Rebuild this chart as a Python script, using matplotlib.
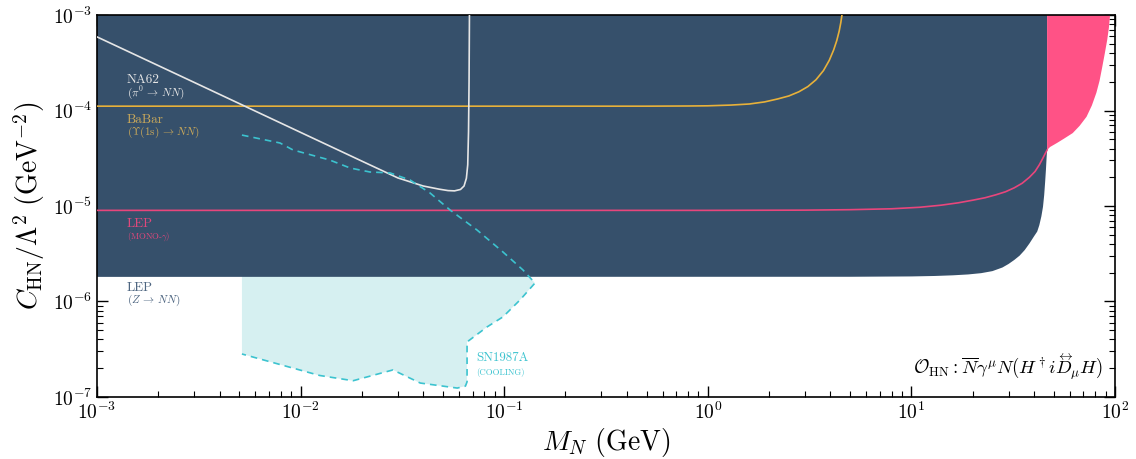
import numpy as np
import matplotlib
matplotlib.use("Agg")
import matplotlib.pyplot as plt
from matplotlib.transforms import IdentityTransform

plt.rcParams['font.family'] = 'serif'
plt.rcParams['font.serif'] = ['cmr10', 'DejaVu Serif']
plt.rcParams['mathtext.fontset'] = 'cm'
plt.rcParams['axes.formatter.use_mathtext'] = True

NAVY = '#36506b'
PINK = '#ff5286'
PINK_LINE = '#e8467c'
GOLD = '#e8b13a'
CYAN = '#3cc3cf'
CYAN_FILL = '#d6f0f1'

# LEP (Z -> NN) excluded region, lower boundary
lep_z_m = [1e-3, 5, 10, 13, 16, 19, 22, 25, 28, 30, 32, 34, 36, 38, 40, 41.5,
           42.5, 43.5, 44.3, 44.9, 45.4, 45.8, 46.1, 46.4]
lep_z_c = [1.81e-6, 1.815e-6, 1.83e-6, 1.85e-6, 1.88e-6, 1.92e-6, 1.98e-6, 2.08e-6,
           2.27e-6, 2.47e-6, 2.72e-6, 3.02e-6, 3.45e-6, 4.05e-6, 4.8e-6, 5.4e-6,
           6.3e-6, 7.8e-6, 9.8e-6, 1.3e-5, 1.8e-5, 2.4e-5, 3.1e-5, 3.86e-5]

# LEP mono-photon
lep_g_m = [1e-3, 1, 3, 5, 8, 11, 14, 17, 20, 23, 26, 29, 32, 35, 38, 40.5, 42.5,
           44, 45.3, 46.4]
lep_g_c = [9.0e-6, 9.0e-6, 9.05e-6, 9.15e-6, 9.35e-6, 9.7e-6, 1.02e-5, 1.08e-5,
           1.15e-5, 1.22e-5, 1.31e-5, 1.41e-5, 1.55e-5, 1.73e-5, 2.0e-5, 2.3e-5,
           2.7e-5, 3.1e-5, 3.5e-5, 3.86e-5]

# LEP mono-photon region above the Z threshold
lep_g2_m = [46.4, 48, 51.9, 56, 62, 67, 72.5, 77, 81, 84, 86.6, 89, 91.6, 93.3, 94.6]
lep_g2_c = [3.86e-5, 4.15e-5, 4.57e-5, 5.05e-5, 5.8e-5, 6.9e-5, 8.6e-5, 1.13e-4,
            1.53e-4, 2.05e-4, 2.86e-4, 3.9e-4, 5.5e-4, 7.3e-4, 1e-3]

# BaBar
babar_m = [1e-3, 0.5, 0.8, 1.0, 1.3, 1.6, 1.9, 2.2, 2.5, 2.8, 3.1, 3.4, 3.7, 3.95,
           4.15, 4.3, 4.42, 4.5, 4.56]
babar_c = [1.11e-4, 1.11e-4, 1.115e-4, 1.12e-4, 1.14e-4, 1.17e-4, 1.23e-4, 1.32e-4,
           1.42e-4, 1.57e-4, 1.78e-4, 2.1e-4, 2.62e-4, 3.35e-4, 4.3e-4, 5.4e-4,
           6.8e-4, 8.3e-4, 1e-3]

# NA62
na62_m = [1e-3, 3e-3, 1e-2, 0.02, 0.03, 0.04, 0.048, 0.053, 0.057, 0.061, 0.0635,
          0.0652, 0.0662, 0.0668, 0.0672, 0.0675]
na62_c = [5.9e-4, 1.97e-4, 5.9e-5, 2.95e-5, 1.97e-5, 1.62e-5, 1.5e-5, 1.45e-5,
          1.44e-5, 1.49e-5, 1.62e-5, 1.95e-5, 2.7e-5, 6e-5, 2e-4, 1e-3]

# SN1987A cooling, upper and lower edges
sn_up_m = [5.15e-3, 7.92e-3, 9.18e-3, 0.0139, 0.0175, 0.0219, 0.0275, 0.0345,
           0.0432, 0.0542, 0.0735, 0.0986, 0.1236, 0.1416]
sn_up_c = [5.53e-5, 4.57e-5, 3.86e-5, 3.03e-5, 2.5e-5, 2.27e-5, 2.22e-5, 1.87e-5,
           1.37e-5, 9.08e-6, 5.61e-6, 3.3e-6, 2.14e-6, 1.56e-6]
sn_lo_m = [0.1416, 0.1197, 0.0986, 0.0822, 0.0657, 0.0657, 0.0645, 0.0588,
           0.0387, 0.0284, 0.0181, 0.0124, 5.15e-3]
sn_lo_c = [1.56e-6, 1.04e-6, 6.9e-7, 5.4e-7, 3.77e-7, 1.44e-7, 1.3e-7, 1.24e-7,
           1.4e-7, 1.92e-7, 1.48e-7, 1.68e-7, 2.82e-7]

fig = plt.figure(figsize=(11.36, 4.59), dpi=100)
ax = fig.add_axes([0.0854, 0.1351, 0.8961, 0.8322])
ax.set_xscale('log')
ax.set_yscale('log')
ax.set_xlim(1e-3, 1e2)
ax.set_ylim(1e-7, 1e-3)

# SN region fill (behind)
ax.fill(sn_up_m + sn_lo_m, sn_up_c + sn_lo_c, color=CYAN_FILL, lw=0, zorder=1)

# LEP Z region
ax.fill([1e-3] + lep_z_m + [46.4], [1e-3] + lep_z_c + [1e-3], color=NAVY, lw=0, zorder=2)

# pink region
ax.fill([46.4] + lep_g2_m, [1e-3] + lep_g2_c, color=PINK, lw=0, zorder=2)

ax.plot(lep_g_m, lep_g_c, color=PINK_LINE, lw=1.2, zorder=3)
ax.plot(babar_m, babar_c, color=GOLD, lw=1.2, zorder=3)
ax.plot(na62_m, na62_c, color='#e6e6e6', lw=1.2, zorder=3)
ax.plot(sn_up_m + sn_lo_m, sn_up_c + sn_lo_c, color=CYAN, lw=1.2, ls=(0, (4, 3)), zorder=4)

# labels
tx = 0.0295
big, small = 9.5, 8
ax.text(tx, 0.830, 'NA62', transform=ax.transAxes, color='#e6e6e6', fontsize=big, va='center')
ax.text(tx, 0.796, r'$(\pi^0\,\to\,NN)$', transform=ax.transAxes, color='#e6e6e6', fontsize=small, va='center')
ax.text(tx, 0.725, 'BaBar', transform=ax.transAxes, color='#c9a85a', fontsize=big, va='center')
ax.text(tx, 0.692, r'$(\Upsilon(1\mathrm{s})\,\to\,NN)$', transform=ax.transAxes, color='#c9a85a', fontsize=small, va='center')
ax.text(tx, 0.453, 'LEP', transform=ax.transAxes, color='#e0487c', fontsize=big, va='center')
ax.text(tx, 0.419, r'(MONO-$\gamma$)', transform=ax.transAxes, color='#e0487c', fontsize=6.3, va='center')
ax.text(tx, 0.285, 'LEP', transform=ax.transAxes, color='#4d6580', fontsize=big, va='center')
ax.text(tx, 0.254, r'$(Z\,\to\,NN)$', transform=ax.transAxes, color='#4d6580', fontsize=small, va='center')
ax.text(0.3725, 0.103, 'SN1987A', transform=ax.transAxes, color=CYAN, fontsize=9.3, va='center')
ax.text(0.3725, 0.064, '(COOLING)', transform=ax.transAxes, color=CYAN, fontsize=6.3, va='center')

# operator, with a double arrow over the D drawn by hand
op_fs = 13.5
op = ax.text(0.988, 0.058, r'$\mathcal{O}_{\rm HN}:\overline{N}\gamma^\mu N(H^\dagger iD_\mu H)$',
             transform=ax.transAxes, ha='right', va='baseline', fontsize=op_fs)
r = fig.canvas.get_renderer()
tail = ax.text(0.988, 0.058, r'$D_\mu H)$', transform=ax.transAxes, ha='right',
               va='baseline', fontsize=op_fs, alpha=0)
dglyph = ax.text(0, 0, r'$D$', transform=ax.transAxes, fontsize=op_fs, alpha=0)
tb = tail.get_window_extent(r)
dw = dglyph.get_window_extent(r).width
x0, y0 = ax.transAxes.transform((0.988, 0.058))
ax.text(tb.x0 + dw * 0.55, y0 + op_fs * 1.30, r'$\leftrightarrow$', transform=IdentityTransform(),
        ha='center', va='center', fontsize=10)

ax.set_xlabel(r'$M_N\ (\mathrm{GeV})$', fontsize=20, labelpad=2)
ax.set_ylabel(r'$C_{\rm HN}/\Lambda^2\ (\mathrm{GeV}^{-2})$', fontsize=20)

ax.tick_params(which='both', direction='in', top=True, right=True, labelsize=14)
ax.tick_params(which='major', length=8, width=1)
ax.tick_params(which='minor', length=4, width=0.8)
for s in ax.spines.values():
    s.set_linewidth(1.2)

fig.savefig('out.png', dpi=100)
